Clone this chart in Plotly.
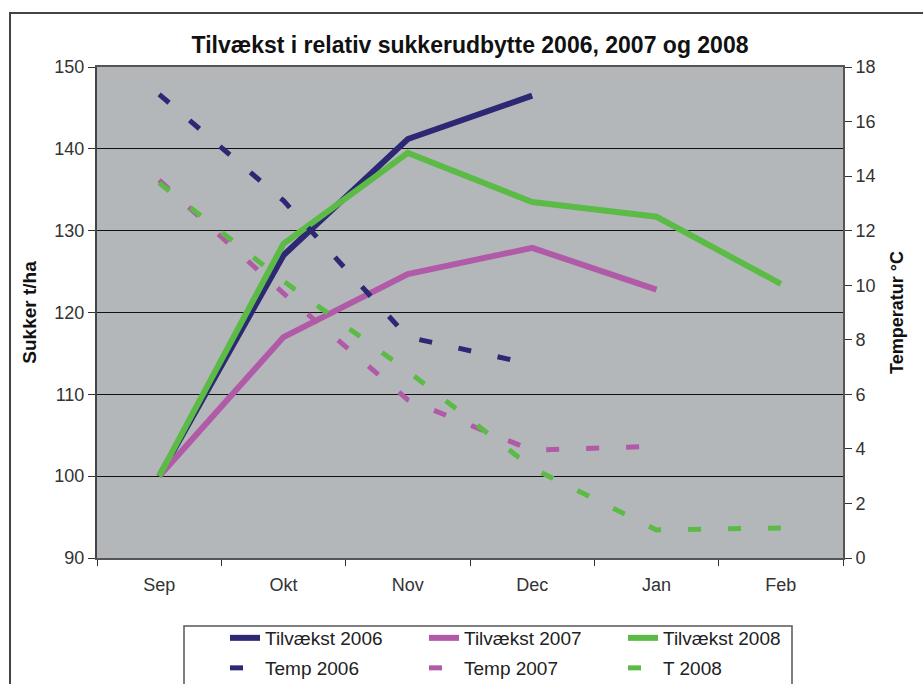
import plotly.graph_objects as go

months = ["Sep", "Okt", "Nov", "Dec", "Jan", "Feb"]

tilv_2006 = [100, 127.0, 141.2, 146.5]
tilv_2007 = [100, 117.0, 124.7, 127.9, 122.8]
tilv_2008 = [100, 128.4, 139.5, 133.5, 131.7, 123.5]

temp_2006 = [17.0, 13.1, 8.1, 7.1]
temp_2007 = [13.85, 9.7, 5.8, 3.95, 4.1]
temp_2008 = [13.75, 10.15, 6.85, 3.3, 1.03, 1.1]

sugar_ticks = [90, 100, 110, 120, 130, 140, 150]
temp_ticks = [0, 2, 4, 6, 8, 10, 12, 14, 16, 18]

NAVY = "#2c2874"
PINK = "#b05aa8"
GREEN = "#5cbb46"
FONT = "Liberation Sans, Arial, sans-serif"

W, H = 923, 684
L, R, T, B = 97, 80, 67, 126
PW, PH = W - L - R, H - T - B

fig = go.Figure()

for name, vals, col in [("Tilvækst 2006", tilv_2006, NAVY),
                        ("Tilvækst 2007", tilv_2007, PINK),
                        ("Tilvækst 2008", tilv_2008, GREEN)]:
    fig.add_trace(go.Scatter(x=months[:len(vals)], y=vals, name=name, mode="lines",
                             line=dict(color=col, width=6), legend="legend"))

for name, vals, col in [("Temp 2006", temp_2006, NAVY),
                        ("Temp 2007", temp_2007, PINK),
                        ("T 2008", temp_2008, GREEN)]:
    fig.add_trace(go.Scatter(x=months[:len(vals)], y=vals, name=name, mode="lines",
                             yaxis="y2",
                             line=dict(color=col, width=5, dash="13px,27px"),
                             legend="legend2"))

leg_common = dict(orientation="h", xref="paper", x=(225 - L) / PW, xanchor="left",
                  yref="container", yanchor="top",
                  entrywidth=154, entrywidthmode="pixels", bgcolor="rgba(0,0,0,0)",
                  font=dict(size=19, color="#222"), itemwidth=30)

fig.update_layout(
    width=W, height=H,
    margin=dict(l=L, r=R, t=T, b=B),
    paper_bgcolor="white",
    plot_bgcolor="#b4b7ba",
    font=dict(family=FONT, size=18, color="#222"),
    title=dict(text="<b>Tilvækst i relativ sukkerudbytte 2006, 2007 og 2008</b>",
               x=0.5, xref="paper", xanchor="center", y=1 - 45 / H, yanchor="middle",
               font=dict(family=FONT, size=23, color="#111")),
    xaxis=dict(type="category", categoryorder="array", categoryarray=months,
               range=[-0.5, 5.5], showgrid=False, showline=True, linecolor="#555",
               linewidth=2, mirror=True, ticks="outside", tickson="boundaries",
               ticklen=6, tickcolor="#333", tickfont=dict(size=18, color="#333"),
               ticklabelstandoff=9),
    yaxis=dict(range=[90, 150], tickvals=sugar_ticks, showgrid=True,
               gridcolor="#111", gridwidth=1, zeroline=False, showline=True,
               linecolor="#444", linewidth=2, ticks="outside", ticklen=7,
               tickcolor="#333", tickfont=dict(size=18, color="#333"),
               title=dict(text="<b>Sukker t/ha</b>", font=dict(size=19, color="#111"),
                          standoff=13)),
    yaxis2=dict(range=[0, 18], tickvals=temp_ticks, overlaying="y", side="right",
                showgrid=False, zeroline=False, showline=True, linecolor="#555",
                linewidth=2, ticks="outside", ticklen=7, tickcolor="#333",
                tickfont=dict(size=18, color="#333"),
                title=dict(text="<b>Temperatur °C</b>", font=dict(size=18, color="#111"),
                           standoff=16)),
    legend=dict(leg_common, y=1 - 619 / H),
    legend2=dict(leg_common, y=1 - 649 / H),
    showlegend=True,
)

# outer chart border and legend box
fig.add_shape(type="rect", xref="paper", yref="paper",
              x0=(10 - L) / PW, x1=(930 - L) / PW,
              y0=(T + PH - 700) / PH, y1=(T + PH - 13) / PH,
              line=dict(color="#444", width=2), fillcolor="rgba(0,0,0,0)", layer="below")
fig.add_shape(type="rect", xref="paper", yref="paper",
              x0=(184 - L) / PW, x1=(792 - L) / PW,
              y0=(T + PH - 700) / PH, y1=(T + PH - 626) / PH,
              line=dict(color="#555", width=1.5), fillcolor="rgba(0,0,0,0)", layer="below")

fig.write_html("out.html", config={"displayModeBar": False},
               post_script="document.body.style.margin='0';document.body.style.overflow='hidden';")
